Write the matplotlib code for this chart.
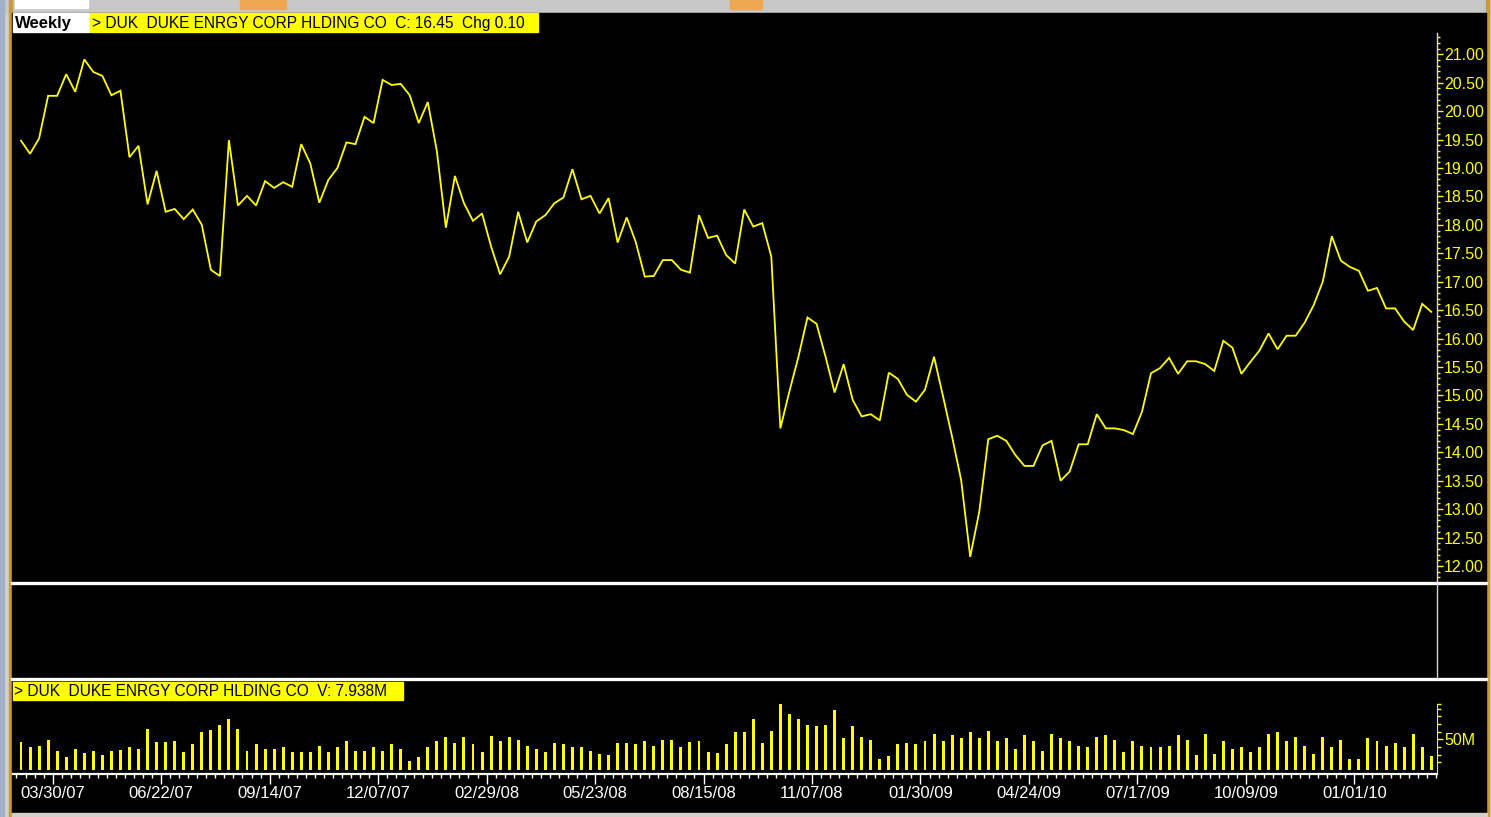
import matplotlib
matplotlib.use("Agg")
import matplotlib.pyplot as plt
from matplotlib.patches import Rectangle
from matplotlib.ticker import FixedLocator, FuncFormatter
import numpy as np

# ---------------- data ----------------
prices = [19.48, 19.25, 19.52, 20.27, 20.27, 20.65, 20.34, 20.91, 20.69, 20.62,
          20.28, 20.36, 19.19, 19.39, 18.36, 18.95, 18.23, 18.28, 18.10, 18.27,
          18.00, 17.21, 17.10, 19.49, 18.34, 18.51, 18.34, 18.77, 18.65, 18.75,
          18.67, 19.42, 19.08, 18.39, 18.79, 19.00, 19.45, 19.42, 19.90, 19.79,
          20.55, 20.46, 20.48, 20.28, 19.79, 20.16, 19.30, 17.95, 18.86, 18.38,
          18.07, 18.20, 17.62, 17.13, 17.44, 18.23, 17.69, 18.06, 18.17, 18.38,
          18.48, 18.98, 18.45, 18.51, 18.20, 18.47, 17.69, 18.13, 17.70, 17.09,
          17.10, 17.38, 17.38, 17.21, 17.16, 18.17, 17.77, 17.81, 17.47, 17.32,
          18.27, 17.97, 18.03, 17.44, 14.42, 15.07, 15.68, 16.37, 16.26, 15.68,
          15.05, 15.55, 14.92, 14.63, 14.67, 14.56, 15.40, 15.29, 15.01, 14.89,
          15.10, 15.68, 14.98, 14.27, 13.51, 12.16, 12.95, 14.23, 14.29, 14.20,
          13.95, 13.76, 13.76, 14.12, 14.20, 13.50, 13.66, 14.14, 14.14, 14.67,
          14.42, 14.42, 14.39, 14.32, 14.71, 15.39, 15.48, 15.66, 15.38, 15.60,
          15.60, 15.55, 15.43, 15.96, 15.84, 15.38, 15.59, 15.79, 16.09, 15.81,
          16.05, 16.05, 16.28, 16.59, 17.00, 17.80, 17.37, 17.26, 17.19, 16.84,
          16.89, 16.53, 16.53, 16.30, 16.15, 16.61, 16.47]

volumes_m = [45.0, 36.7, 38.9, 49.4, 31.7, 21.7, 34.4, 27.2, 31.7, 24.4,
             31.7, 32.2, 36.7, 34.4, 66.1, 46.1, 46.1, 46.7, 29.4, 41.7,
             61.1, 65.6, 73.9, 83.3, 66.1, 31.7, 42.2, 34.4, 34.4, 36.7,
             29.4, 29.4, 29.4, 39.4, 29.4, 36.7, 46.7, 31.7, 31.7, 36.7,
             31.7, 42.2, 34.4, 15.0, 21.7, 36.7, 46.7, 53.3, 44.4, 53.3,
             41.7, 29.4, 56.1, 46.7, 53.3, 49.4, 38.9, 34.4, 29.4, 44.4,
             41.7, 36.7, 36.7, 31.7, 26.7, 23.9, 43.9, 43.9, 41.7, 46.7,
             39.4, 49.4, 49.4, 37.2, 46.1, 46.7, 29.4, 27.2, 41.7, 61.1,
             61.7, 83.3, 44.4, 63.9, 107.8, 90.6, 83.3, 73.3, 71.1, 73.3,
             97.8, 51.7, 71.1, 53.9, 49.4, 17.2, 22.2, 41.7, 44.4, 42.2,
             46.7, 58.9, 46.7, 56.7, 51.7, 61.7, 51.7, 63.9, 46.7, 51.7,
             34.4, 56.7, 46.7, 31.7, 58.9, 51.7, 46.7, 38.9, 36.7, 53.9,
             56.7, 49.4, 29.4, 46.7, 38.9, 36.7, 36.7, 38.9, 56.7, 49.4,
             24.4, 58.9, 26.7, 46.7, 34.4, 36.7, 29.4, 36.7, 58.9, 61.7,
             46.7, 53.9, 38.9, 26.7, 53.9, 36.7, 49.4, 17.2, 17.2, 51.7,
             46.7, 38.9, 44.4, 36.7, 58.9, 36.7, 22.2]

date_labels = ["03/30/07", "06/22/07", "09/14/07", "12/07/07", "02/29/08",
               "05/23/08", "08/15/08", "11/07/08", "01/30/09", "04/24/09",
               "07/17/09", "10/09/09", "01/01/10"]

price_ticks = [12.0, 12.5, 13.0, 13.5, 14.0, 14.5, 15.0, 15.5, 16.0, 16.5,
               17.0, 17.5, 18.0, 18.5, 19.0, 19.5, 20.0, 20.5, 21.0]

header_text = "> DUK  DUKE ENRGY CORP HLDING CO  C: 16.45  Chg 0.10"
volume_text = "> DUK  DUKE ENRGY CORP HLDING CO  V: 7.938M"

# ---------------- figure ----------------
W, H = 1491, 817
FONT = ["Liberation Sans", "DejaVu Sans"]
plt.rcParams["font.family"] = FONT
YEL = "#ffff00"
fig = plt.figure(figsize=(W / 100, H / 100), dpi=100)
fig.patch.set_facecolor("#d4d0c8")


def ax_px(x0, y0, x1, y1, **kw):
    return fig.add_axes([x0 / W, 1 - y1 / H, (x1 - x0) / W, (y1 - y0) / H], **kw)


# background / frame in pixel coordinates
bg = ax_px(0, 0, W, H)
bg.set_xlim(0, W)
bg.set_ylim(H, 0)
bg.axis("off")
bg.add_patch(Rectangle((0, 0), W, 13, color="#c8c8c8", zorder=0))
bg.add_patch(Rectangle((0, 0), 4, H, color="#9fb0c8", zorder=0))
bg.add_patch(Rectangle((15, 0), 73, 8, color="#ffffff", zorder=1))
bg.add_patch(Rectangle((240, 0), 46, 9, color="#f0a850", zorder=1))
bg.add_patch(Rectangle((730, 0), 32, 9, color="#f0a850", zorder=1))
bg.add_patch(Rectangle((9, 0), 3, H, color="#c89a3a", zorder=1))
bg.add_patch(Rectangle((1486, 0), 3, H, color="#c89a3a", zorder=1))
bg.add_patch(Rectangle((12, 13), 1474, 800, color="black", zorder=2))
bg.add_patch(Rectangle((12, 813), 1475, 4, color="#d4d0c8", zorder=2))
# panel separators
bg.plot([12, 1486], [583, 583], color="white", lw=2.4, zorder=3)
bg.plot([12, 1486], [679, 679], color="white", lw=2.4, zorder=3)
bg.plot([1437, 1437], [584, 678], color="#d0d0d0", lw=1.0, zorder=3)
# header labels
bg.add_patch(Rectangle((13, 13), 76, 19, color="white", zorder=4))
bg.text(15, 23, "Weekly", color="black", fontsize=12, fontweight="bold",
        va="center", ha="left", zorder=5)
bg.add_patch(Rectangle((90, 13), 448, 19, color=YEL, zorder=4))
bg.text(92, 23, header_text, color="black", fontsize=11.2,
        va="center", ha="left", zorder=5)
bg.add_patch(Rectangle((13, 682), 390, 18, color=YEL, zorder=4))
bg.text(14, 691, volume_text, color="black", fontsize=11.2,
        va="center", ha="left", zorder=5)

n = len(prices)
idx = np.arange(n)
x_lo = (13 - 21) / 9.04
x_hi = (1437 - 21) / 9.04

# ---------------- price panel ----------------
ax = ax_px(13, 13, 1437, 582)
ax.set_facecolor("none")
ax.plot(idx, prices, color=YEL, lw=1.3, solid_joinstyle="miter")
ax.set_xlim(x_lo, x_hi)
ax.set_ylim(21 - (582 - 54.3) / 56.85, 21 + (54.3 - 13) / 56.85)
for s in ["top", "left", "bottom"]:
    ax.spines[s].set_visible(False)
ax.spines["right"].set_color("#d8d8d8")
ax.spines["right"].set_linewidth(1.0)
ax.spines["right"].set_bounds(ax.get_ylim()[0], 21.37)
ax.set_xticks([])
ax.yaxis.tick_right()
ax.yaxis.set_major_locator(FixedLocator(price_ticks))
ax.yaxis.set_minor_locator(FixedLocator(np.arange(11.8, 21.35, 0.1)))
ax.yaxis.set_major_formatter(FuncFormatter(lambda v, p: f"{v:.2f}"))
ax.tick_params(axis="y", which="major", colors=YEL, length=4, width=1,
               labelsize=11.5, pad=1, direction="out")
ax.tick_params(axis="y", which="minor", colors=YEL, length=2.5, width=1,
               direction="out")
for lab in ax.get_yticklabels():
    lab.set_color(YEL)

# ---------------- volume panel ----------------
axv = ax_px(13, 700, 1437, 774)
axv.set_facecolor("none")
axv.bar(idx, volumes_m, width=0.33, color=YEL, linewidth=0)
axv.set_xlim(x_lo, x_hi)
axv.set_ylim(-6.5, 114)
axv.spines["top"].set_visible(False)
axv.spines["left"].set_visible(False)
axv.spines["bottom"].set_color("white")
axv.spines["bottom"].set_linewidth(1.6)
axv.spines["right"].set_color("#d8d8d8")
axv.spines["right"].set_bounds(-6.5, 108)
axv.yaxis.tick_right()
axv.yaxis.set_major_locator(FixedLocator([50]))
axv.yaxis.set_minor_locator(FixedLocator([12.5, 25, 37.5, 62.5, 75, 87.5, 100, 108]))
axv.yaxis.set_major_formatter(FuncFormatter(lambda v, p: f"{int(v)}M"))
axv.tick_params(axis="y", which="major", colors=YEL, length=4, width=1,
                labelsize=11.5, pad=1)
axv.tick_params(axis="y", which="minor", colors=YEL, length=3, width=1)
tick_pos = [3.5 + 12 * k for k in range(len(date_labels))]
axv.xaxis.set_major_locator(FixedLocator(tick_pos))
axv.xaxis.set_minor_locator(FixedLocator(np.arange(-0.5, n, 1.0)))
axv.set_xticklabels(date_labels)
axv.tick_params(axis="x", which="major", colors="white", length=7, width=1,
                labelsize=12, pad=2)
axv.tick_params(axis="x", which="minor", colors="white", length=3, width=1)

fig.savefig("out.png", dpi=100, facecolor=fig.get_facecolor())
